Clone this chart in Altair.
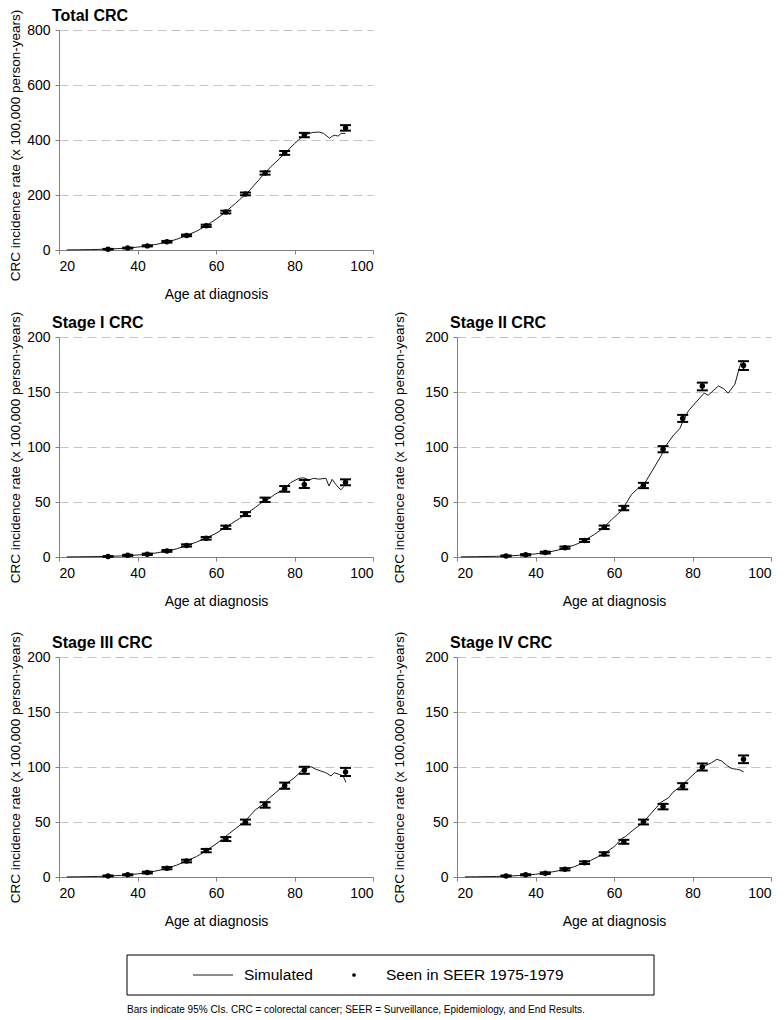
import altair as alt
import pandas as pd

FONT = "Liberation Sans"

# ---------------- data ----------------
pt_ages = [32.5, 37.5, 42.5, 47.5, 52.5, 57.5, 62.5, 67.5, 72.5, 77.5, 82.5, 93]

# Total CRC
total_sim_age = [22, 25, 28, 30, 32, 35, 38, 40, 42, 45, 48, 50, 52, 55, 57, 60, 62, 64, 65, 66, 68, 70,
                 72, 74, 76, 78, 80, 82, 83.2, 84.5, 86.2, 87.4, 88.3, 89, 89.6, 90.4, 91.1, 91.9, 93]
total_sim_rate = [0.3, 0.8, 1.5, 2.2, 3, 5, 8, 10.5, 14, 21, 31, 39, 50, 68, 84, 112, 133, 158, 170, 183, 208, 240,
                  273, 303, 330, 358, 387, 412, 421, 427, 429, 424, 414, 406, 414, 417, 414, 424, 424]
total_pt_rate = [3, 7, 15, 30, 53, 88, 138, 204, 280, 353, 418, 444]
total_pt_lo = [2, 5.5, 13, 27, 50, 84, 133, 199, 274, 346, 410, 434]
total_pt_hi = [4, 8.5, 17, 33, 56, 92, 143, 209, 286, 360, 426, 454]

# Stage I
s1_sim_age = [22, 25, 30, 33, 36, 38, 40, 42, 45, 48, 50, 52, 55, 57, 60, 62, 64, 66, 68, 70, 72, 73.5, 75,
              77.3, 79, 81.1, 82.4, 83.7, 84.8, 86.2, 88, 88.8, 89.6, 90.5, 91.8, 92.6]
s1_sim_rate = [0.1, 0.2, 0.4, 0.6, 1, 1.3, 1.8, 2.4, 3.8, 5.8, 7.5, 9.8, 13.5, 16.5, 21.5, 26, 30.5, 35, 40, 45, 50.5, 53, 57,
               61.5, 67.6, 71.5, 72, 70, 71.5, 70.8, 71.5, 64.5, 70.6, 66, 61, 64]
s1_pt_rate = [0.5, 1.5, 2.5, 5.5, 10.5, 17, 27, 39, 52, 62, 66, 68]
s1_pt_lo = [0.2, 1.0, 1.9, 4.7, 9.5, 15.8, 25.5, 37.2, 50, 59.3, 62.7, 65.2]
s1_pt_hi = [0.8, 2.0, 3.1, 6.3, 11.5, 18.2, 28.5, 40.8, 54, 64.5, 70, 70.6]

# Stage II
s2_sim_age = [21, 25, 30, 33, 36, 40, 43, 46, 48, 50, 52, 55, 57, 59.4, 62, 64.5, 66, 68, 70, 72, 73, 75,
              76.8, 77.5, 79, 80.7, 83, 84, 86.6, 87.9, 89.1, 90.8, 91.7, 92.5, 93]
s2_sim_rate = [0.1, 0.3, 0.6, 1, 1.6, 2.8, 4.2, 6.5, 8.8, 11, 14, 20.5, 25.5, 34, 42.5, 57, 62, 68, 80, 92, 100, 110,
               117, 123, 133, 140, 149, 147, 155.5, 153, 149, 157, 169, 178, 178]
s2_pt_rate = [1, 2, 4, 8.5, 15, 27, 44.5, 65, 98, 126, 155.5, 174]
s2_pt_lo = [0.6, 1.4, 3.2, 7.5, 13.7, 25.4, 42.5, 62.6, 95.2, 122.8, 151.5, 170]
s2_pt_hi = [1.4, 2.6, 4.8, 9.5, 16.3, 28.6, 46.5, 67.4, 100.8, 129.2, 158.5, 178]

# Stage III
s3_sim_age = [22, 25, 30, 33, 36, 40, 43, 46, 48, 50, 52, 55, 57, 60, 62, 63, 65, 67.5, 69, 70, 72, 73.6, 75,
              77.4, 79.9, 82, 84.2, 85.4, 86.7, 88, 89.3, 90.1, 91.4, 92.4, 93.1]
s3_sim_rate = [0.1, 0.2, 0.5, 0.9, 1.5, 2.8, 4.2, 6.5, 8.5, 10.8, 13.8, 18.5, 22.8, 30, 35.5, 38.5, 44, 51, 57, 61, 66, 72, 76,
               83.5, 90, 97, 100.3, 98, 96.4, 94.8, 91.8, 94.8, 93.3, 91.8, 86]
s3_pt_rate = [1, 2, 4, 8, 14.5, 24, 34.5, 50, 65.5, 83, 97, 95.5]
s3_pt_lo = [0.6, 1.5, 3.2, 7, 13.3, 22.5, 32.7, 47.8, 63, 80.2, 93.8, 91.8]
s3_pt_hi = [1.4, 2.5, 4.8, 9, 15.7, 25.5, 36.3, 52.2, 68, 85.8, 100.2, 99.2]

# Stage IV
s4_sim_age = [22, 25, 30, 33, 36, 40, 43, 46, 48, 50, 52, 54, 56, 58, 60, 61, 62, 63, 65, 67.5, 70, 72, 73.9, 75,
              77.4, 80.7, 83.2, 84.9, 86.2, 87.4, 88.7, 90, 91.2, 92.1, 93]
s4_sim_rate = [0.1, 0.2, 0.5, 0.8, 1.4, 2.5, 3.8, 5.8, 7.5, 9.5, 12.5, 15, 18.5, 22.5, 27.5, 31, 35, 37, 43, 50, 60, 68, 72, 77,
               83.6, 94.8, 101, 104, 107, 105.5, 101.5, 98.5, 98, 97.3, 95.5]
s4_pt_rate = [1, 2, 3.5, 7, 13, 21, 32, 50, 64, 82.5, 100, 107]
s4_pt_lo = [0.6, 1.5, 2.8, 6, 11.8, 19.5, 30.2, 47.8, 61.5, 79.7, 96.8, 103.5]
s4_pt_hi = [1.4, 2.5, 4.2, 8, 14.2, 22.5, 33.8, 52.2, 66.5, 85.3, 103.2, 110.5]

panel_titles = ["Total CRC", "Stage I CRC", "Stage II CRC", "Stage III CRC", "Stage IV CRC"]
x_title = "Age at diagnosis"
y_title = "CRC incidence rate (x 100,000 person-years)"
x_ticks = [20, 40, 60, 80, 100]
legend_labels = ["Simulated", "Seen in SEER 1975-1979"]
footnote = "Bars indicate 95% CIs. CRC = colorectal cancer; SEER = Surveillance, Epidemiology, and End Results."

PW, PH = 314, 220


def panel(title, sim_age, sim_rate, pt_rate, pt_lo, pt_hi, ymax, ystep, ytitle_pad, ytitle_y):
    sim = pd.DataFrame({"age": sim_age, "rate": sim_rate})
    pts = pd.DataFrame({"age": pt_ages, "rate": pt_rate, "lo": pt_lo, "hi": pt_hi})
    ttl = pd.DataFrame({"t": [title]})
    xs = alt.Scale(domain=[20, 100], nice=False, zero=False)
    ys = alt.Scale(domain=[0, ymax], nice=False)
    xax = alt.Axis(values=x_ticks, title=x_title, grid=False, titlePadding=14)
    yax = alt.Axis(values=list(range(0, ymax + 1, ystep)), title=y_title, grid=True,
                   gridDash=[9, 5], gridColor="#c4c4c4", gridWidth=1, titlePadding=ytitle_pad,
                   titleY=ytitle_y, titleFontSize=13.5)
    X = alt.X("age:Q", scale=xs, axis=xax)

    def Y(f):
        return alt.Y(f, scale=ys, axis=yax)

    line = alt.Chart(sim).mark_line(color="#1a1a1a", strokeWidth=1).encode(x=X, y=Y("rate:Q"))
    bars = alt.Chart(pts).mark_rule(color="black", strokeWidth=1.5).encode(x=X, y=Y("lo:Q"), y2="hi:Q")
    cap_lo = alt.Chart(pts).mark_tick(orient="horizontal", size=11, thickness=2, color="black",
                                      opacity=1).encode(x=X, y=Y("lo:Q"))
    cap_hi = alt.Chart(pts).mark_tick(orient="horizontal", size=11, thickness=2, color="black",
                                      opacity=1).encode(x=X, y=Y("hi:Q"))
    dots = alt.Chart(pts).mark_circle(size=30, color="black", opacity=1).encode(x=X, y=Y("rate:Q"))
    head = alt.Chart(ttl).mark_text(align="left", baseline="alphabetic", fontSize=16, fontWeight="bold",
                                    color="black").encode(text="t:N", x=alt.value(-7), y=alt.value(-9))
    return alt.layer(line, bars, cap_lo, cap_hi, dots, head).properties(width=PW, height=PH)


total = panel(panel_titles[0], total_sim_age, total_sim_rate, total_pt_rate, total_pt_lo, total_pt_hi,
              800, 200, 4, 115)
p1 = panel(panel_titles[1], s1_sim_age, s1_sim_rate, s1_pt_rate, s1_pt_lo, s1_pt_hi, 200, 50, 4, 110)
p2 = panel(panel_titles[2], s2_sim_age, s2_sim_rate, s2_pt_rate, s2_pt_lo, s2_pt_hi, 200, 50, 18, 110)
p3 = panel(panel_titles[3], s3_sim_age, s3_sim_rate, s3_pt_rate, s3_pt_lo, s3_pt_hi, 200, 50, 4, 110)
p4 = panel(panel_titles[4], s4_sim_age, s4_sim_rate, s4_pt_rate, s4_pt_lo, s4_pt_hi, 200, 50, 18, 110)

# ---------------- legend box + footnote ----------------
leg_base = alt.Chart(pd.DataFrame({"k": [0]}))
box = leg_base.mark_rect(fill="white", stroke="black", strokeWidth=1).encode(
    x=alt.value(68), x2=alt.value(595), y=alt.value(0), y2=alt.value(40))
sample = leg_base.mark_rule(color="#1a1a1a", strokeWidth=1).encode(
    x=alt.value(134), x2=alt.value(174), y=alt.value(20))
t1 = leg_base.mark_text(text=legend_labels[0], align="left", baseline="middle", fontSize=15.5,
                        color="black").encode(x=alt.value(185), y=alt.value(20))
dot = leg_base.mark_circle(size=14, color="black", opacity=1).encode(x=alt.value(295), y=alt.value(20))
t2 = leg_base.mark_text(text=legend_labels[1], align="left", baseline="middle", fontSize=15.5,
                        color="black").encode(x=alt.value(327), y=alt.value(20))
foot = leg_base.mark_text(text=footnote, align="left", baseline="middle", fontSize=10,
                          color="black").encode(x=alt.value(68), y=alt.value(55))
legend = alt.layer(box, sample, t1, dot, t2, foot).properties(width=600, height=58)

row2 = alt.hconcat(p1, p2, spacing=84, bounds="flush")
row3 = alt.hconcat(p3, p4, spacing=84, bounds="flush")

chart = (
    alt.vconcat(
        alt.vconcat(alt.vconcat(total, row2, spacing=10), row3, spacing=23),
        legend, spacing=26,
    )
    .properties(padding=0)
    .configure(font=FONT)
    .configure_view(strokeWidth=0)
    .configure_axis(
        labelFont=FONT, titleFont=FONT, labelFontSize=14, titleFontSize=14,
        labelColor="black", titleColor="black", titleFontWeight="normal",
        domainColor="#808080", tickColor="#808080", tickSize=4, labelPadding=5,
    )
)

chart.save("out.html", embed_options={"renderer": "svg", "actions": False})
